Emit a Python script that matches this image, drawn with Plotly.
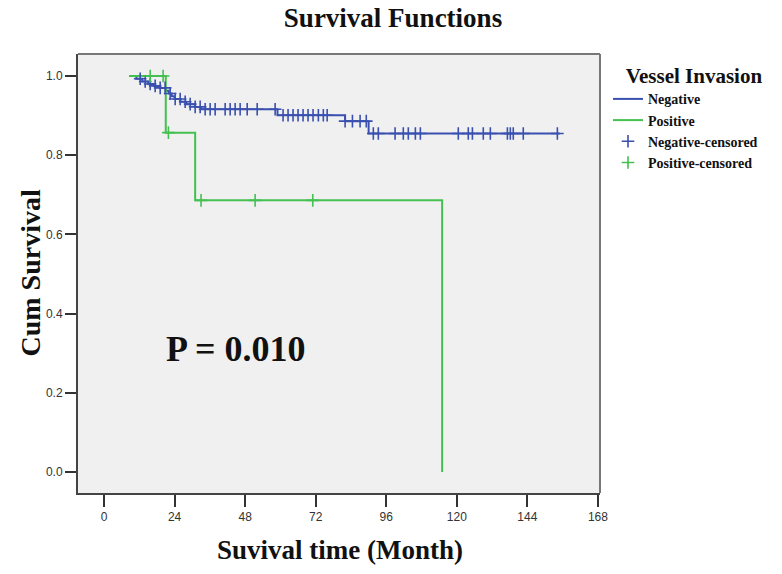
import numpy as np
import plotly.graph_objects as go

# ---- data (months, cumulative survival) ----
neg_step_times = [8.5, 11, 13, 15, 17, 19, 21, 22, 23, 24, 26, 28, 31, 33, 59, 82, 90, 155]
neg_step_surv = [1.0, 0.993, 0.986, 0.98, 0.975, 0.97, 0.963, 0.956, 0.949, 0.942, 0.935,
                 0.929, 0.922, 0.916, 0.901, 0.886, 0.855, 0.855]
neg_censored = [12.3, 14, 15.7, 17.4, 19.1, 20.8, 22.5, 24.2, 25.9, 27.6, 29.3, 31, 32.7,
                34.4, 36.1, 37.8, 41.2, 42.9, 44.6, 46.3, 48.7, 52.1, 58.2, 60.9, 62.6,
                64.3, 66, 67.7, 69.4, 71.1, 72.9, 74.6, 75.9, 82, 84.5, 87.1, 89.2, 91.6,
                93.3, 99, 101.8, 103.5, 105.9, 107.6, 120.5, 123.9, 125.3, 129, 131.4,
                137.2, 138.2, 139.2, 142.6, 154.2]

pos_step_times = [8.5, 21, 31, 115]
pos_step_surv = [1.0, 0.857, 0.686, 0.0]
pos_censored = [15.7, 20.1, 21.9, 33, 51.4, 71]

x_ticks = [0, 24, 48, 72, 96, 120, 144, 168]
y_ticks = [0.0, 0.2, 0.4, 0.6, 0.8, 1.0]

BLUE = "#3a50b0"
GREEN = "#44c050"
SERIF = "Liberation Serif"

W, H = 782, 574
L, R, T, B = 78, 182, 54, 81
PW, PH = W - L - R, H - T - B


def surv_at(times, surv, t):
    idx = np.searchsorted(np.array(times), np.array(t), side="right") - 1
    return np.array(surv)[idx]


fig = go.Figure()
fig.add_trace(go.Scatter(x=neg_step_times, y=neg_step_surv, mode="lines",
                         line=dict(shape="hv", color=BLUE, width=2),
                         name="<b>Negative</b>"))
fig.add_trace(go.Scatter(x=pos_step_times, y=pos_step_surv, mode="lines",
                         line=dict(shape="hv", color=GREEN, width=2),
                         name="<b>Positive</b>"))
fig.add_trace(go.Scatter(x=neg_censored, y=surv_at(neg_step_times, neg_step_surv, neg_censored),
                         mode="markers",
                         marker=dict(symbol="cross-thin", size=9, color=BLUE,
                                     line=dict(color=BLUE, width=1.6)),
                         name="<b>Negative-censored</b>"))
fig.add_trace(go.Scatter(x=pos_censored, y=surv_at(pos_step_times, pos_step_surv, pos_censored),
                         mode="markers",
                         marker=dict(symbol="cross-thin", size=9, color=GREEN,
                                     line=dict(color=GREEN, width=1.6)),
                         name="<b>Positive-censored</b>"))

fig.update_layout(
    width=W, height=H,
    margin=dict(l=L, r=R, t=T, b=B, autoexpand=False),
    paper_bgcolor="white",
    plot_bgcolor="#f0f0f0",
    title=dict(text="<b>Survival Functions</b>", xref="container", x=393 / W,
               xanchor="center", yref="container", y=1 - 18 / H, yanchor="middle",
               font=dict(family=SERIF, size=27, color="#111")),
    showlegend=True,
    legend=dict(xref="container", x=608 / W, xanchor="left",
                yref="container", y=1 - 56 / H, yanchor="top",
                title=dict(text="&nbsp;&nbsp;&nbsp;<b>Vessel Invasion</b>",
                           font=dict(family=SERIF, size=21, color="#111")),
                font=dict(family=SERIF, size=14, color="#111"),
                bgcolor="rgba(0,0,0,0)", traceorder="normal",
                itemwidth=30, tracegroupgap=0),
)

fig.update_xaxes(range=[-8.85, 168.7], tickvals=x_ticks, ticktext=[str(v) for v in x_ticks],
                 showgrid=False, zeroline=False, showline=True, linecolor="#444", linewidth=2,
                 ticks="outside", ticklen=12, tickwidth=2, tickcolor="#333", automargin=False,
                 tickfont=dict(family="Liberation Sans", size=12, color="#333"))
fig.update_yaxes(range=[-0.053, 1.0556], tickvals=y_ticks, ticktext=[f"{v:.1f}" for v in y_ticks],
                 showgrid=False, zeroline=False, showline=True, linecolor="#444", linewidth=2,
                 ticks="outside", ticklen=11, tickwidth=2, tickcolor="#333", automargin=False,
                 tickfont=dict(family="Liberation Sans", size=12, color="#333"))

# box top/right border
fig.add_shape(type="line", xref="paper", yref="paper", x0=0, x1=1, y0=1, y1=1,
              line=dict(color="#777", width=2))
fig.add_shape(type="line", xref="paper", yref="paper", x0=1, x1=1, y0=0, y1=1,
              line=dict(color="#777", width=2))

fig.add_annotation(text="<b>Suvival time (Month)</b>", xref="paper", yref="paper",
                   x=(340 - L) / PW, y=-(550 - (H - B)) / PH, xanchor="center", yanchor="middle",
                   showarrow=False, font=dict(family=SERIF, size=27, color="#111"))
fig.add_annotation(text="<b>Cum Survival</b>", xref="paper", yref="paper",
                   x=(30 - L) / PW, y=0.5, xanchor="center", yanchor="middle", textangle=-90,
                   showarrow=False, font=dict(family=SERIF, size=28, color="#111"))
fig.add_annotation(text="<b>P = 0.010</b>", xref="x", yref="y", x=20.5, y=0.31,
                   xanchor="left", yanchor="middle", showarrow=False,
                   font=dict(family=SERIF, size=36, color="#111"))

fig.write_html("out.html", config={"displayModeBar": False},
               post_script="document.body.style.margin='0';")
